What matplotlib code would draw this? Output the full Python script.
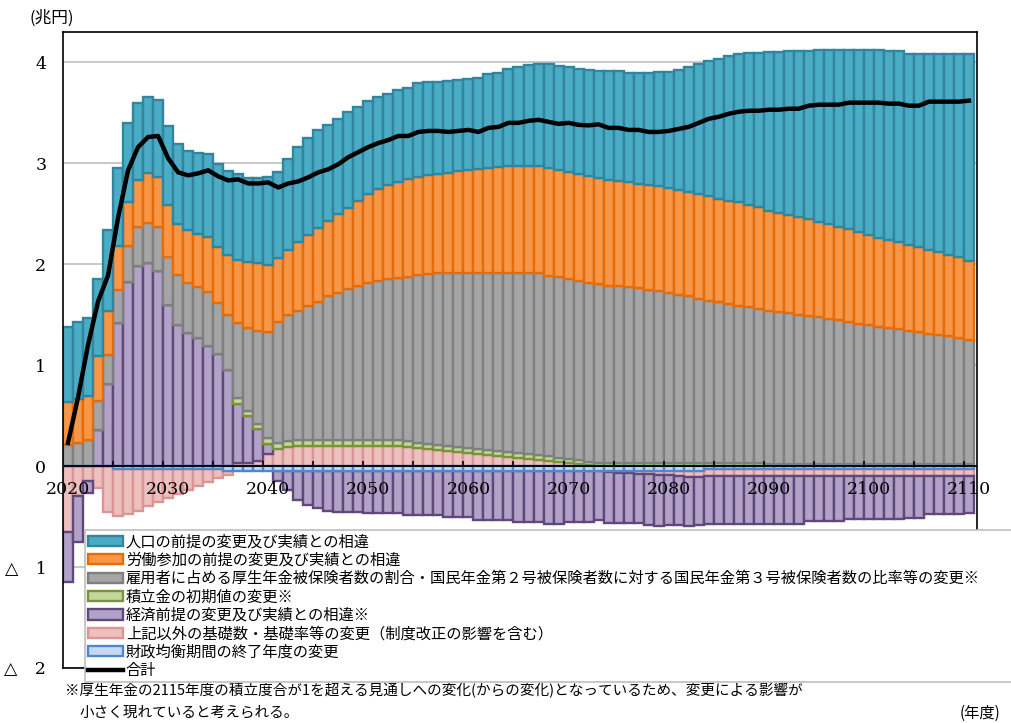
import matplotlib.pyplot as plt
import numpy as np

plt.rcParams['font.family'] = ['Noto Sans CJK JP', 'DejaVu Sans']

years = np.arange(2020, 2111)

# 財政均衡期間の終了年度の変更
zaisei = [0, 0, 0, 0, 0] + [-0.03] * 11 + [-0.05] * 48 + [-0.03] * 27

# 上記以外の基礎数・基礎率等の変更
sonota = [-0.65, -0.30, -0.15, -0.22, -0.45, -0.46, -0.44, -0.41, -0.37, -0.33,
          -0.29, -0.25, -0.21, -0.17, -0.13, -0.09, -0.04,
          0.03, 0.03, 0.05, 0.12, 0.17, 0.19,
          0.20, 0.20, 0.20, 0.20, 0.20, 0.20, 0.20, 0.20, 0.20, 0.20, 0.20,
          0.19, 0.18, 0.17, 0.16, 0.15, 0.14, 0.13, 0.12, 0.11, 0.10,
          0.09, 0.08, 0.07, 0.06, 0.05, 0.04, 0.03, 0.02, 0.01, 0.0,
          -0.01, -0.02, -0.02, -0.03, -0.03, -0.04, -0.04, -0.05, -0.06, -0.06] + [-0.07] * 27

# 経済前提の変更及び実績との相違
keizai = [-0.50, -0.45, -0.12, 0.36, 0.81, 1.42, 1.82, 1.98, 2.01, 1.93,
          1.60, 1.40, 1.32, 1.27, 1.19, 1.11, 0.95, 0.59, 0.47, 0.32,
          0.10, -0.10, -0.19, -0.29, -0.34, -0.37, -0.39, -0.40, -0.40, -0.40,
          -0.41, -0.41, -0.41, -0.41, -0.43, -0.43, -0.43, -0.43, -0.45, -0.45,
          -0.45, -0.48, -0.48, -0.48, -0.48, -0.50, -0.50, -0.50, -0.52, -0.52,
          -0.50, -0.50, -0.50, -0.48, -0.50, -0.49, -0.49, -0.48, -0.50, -0.50,
          -0.49, -0.48, -0.48, -0.47] + [-0.47] * 10 + [-0.44] * 4 + [-0.42] * 6 \
         + [-0.41] * 2 + [-0.37] * 4 + [-0.36]

# 積立金の初期値の変更
tsumitate = [0.0] * 17 + [0.05] * 3 + [0.06] * 15 + [0.05] * 14 + [0.04] * 3 \
            + [0.035] * 2 + [0.03] * 16 + [0.02] * 21

# 雇用者に占める厚生年金被保険者数の割合等の変更
koyou = [0.21, 0.23, 0.26, 0.28, 0.29, 0.32, 0.36, 0.39, 0.40, 0.44,
         0.47, 0.49, 0.49, 0.50, 0.53, 0.51, 0.55, 0.75, 0.82, 0.92,
         1.05, 1.20, 1.25, 1.28, 1.33, 1.37, 1.42, 1.45, 1.49, 1.52,
         1.55, 1.57, 1.59, 1.60, 1.62, 1.66, 1.68, 1.70, 1.71, 1.72,
         1.73, 1.74, 1.75, 1.76, 1.77, 1.78, 1.79, 1.80, 1.78, 1.79,
         1.78, 1.77, 1.77, 1.77, 1.75, 1.75, 1.74, 1.73, 1.71, 1.70,
         1.68, 1.66, 1.65, 1.63, 1.61, 1.60, 1.58, 1.56, 1.55, 1.53,
         1.52, 1.51, 1.50, 1.48, 1.47, 1.46, 1.44, 1.43, 1.41, 1.39,
         1.38, 1.36, 1.35, 1.34, 1.32, 1.31, 1.29, 1.28, 1.27, 1.25, 1.23]

# 労働参加の前提の変更及び実績との相違
roudou = [0.42, 0.43, 0.43, 0.45, 0.44, 0.44, 0.44, 0.46, 0.49, 0.49,
          0.52, 0.51, 0.53, 0.53, 0.55, 0.55, 0.59, 0.62, 0.65, 0.67,
          0.66, 0.63, 0.64, 0.68, 0.70, 0.73, 0.75, 0.79, 0.81, 0.85,
          0.89, 0.91, 0.93, 0.95, 0.97, 0.97, 0.98, 0.98, 0.99, 1.01,
          1.02, 1.03, 1.04, 1.05, 1.06, 1.06, 1.06, 1.06, 1.07, 1.06,
          1.06, 1.06, 1.06, 1.05, 1.05, 1.04, 1.04, 1.03, 1.04, 1.04,
          1.04, 1.04, 1.04, 1.04, 1.04, 1.02, 1.02, 1.03, 1.01, 1.01,
          0.99, 0.98, 0.97, 0.97, 0.96, 0.94, 0.94, 0.92, 0.92, 0.91,
          0.89, 0.88, 0.87, 0.86, 0.85, 0.84, 0.83, 0.82, 0.80, 0.80, 0.78]

# 人口の前提の変更及び実績との相違
jinkou = [0.75, 0.77, 0.78, 0.76, 0.80, 0.77, 0.78, 0.77, 0.76, 0.77,
          0.78, 0.79, 0.78, 0.80, 0.82, 0.82, 0.83, 0.85, 0.83, 0.84,
          0.87, 0.85, 0.90, 0.94, 0.96, 0.97, 0.95, 0.94, 0.95, 0.93,
          0.92, 0.92, 0.91, 0.92, 0.91, 0.93, 0.92, 0.91, 0.91, 0.90,
          0.90, 0.90, 0.93, 0.93, 0.96, 0.98, 1.00, 1.01, 1.03, 1.03,
          1.04, 1.04, 1.05, 1.06, 1.08, 1.09, 1.08, 1.10, 1.11, 1.13,
          1.15, 1.19, 1.23, 1.28, 1.33, 1.38, 1.43, 1.46, 1.50, 1.52,
          1.57, 1.59, 1.62, 1.64, 1.66, 1.70, 1.72, 1.75, 1.77, 1.80,
          1.83, 1.86, 1.87, 1.89, 1.89, 1.91, 1.94, 1.96, 1.99, 2.01, 2.05]

names = ['財政均衡期間の終了年度の変更',
         '上記以外の基礎数・基礎率等の変更（制度改正の影響を含む）',
         '経済前提の変更及び実績との相違※',
         '積立金の初期値の変更※',
         '雇用者に占める厚生年金被保険者数の割合・国民年金第２号被保険者数に対する国民年金第３号被保険者数の比率等の変更※',
         '労働参加の前提の変更及び実績との相違',
         '人口の前提の変更及び実績との相違']
fills = ['#C6D9F1', '#EBC0BF', '#B3A2C7', '#C3D69B', '#A5A5A5', '#F79646', '#4BACC6']
edges = ['#4F86D0', '#DA9694', '#5F497A', '#77933C', '#7F7F7F', '#E46C0A', '#31859C']
layers = [2.6, 2, 2, 2, 2, 2, 2]

series = [zaisei, sonota, keizai, tsumitate, koyou, roudou, jinkou]
total = np.sum([np.array(s) for s in series], axis=0)

fig = plt.figure(figsize=(10.12, 7.23), dpi=100)
ax = fig.add_axes([63 / 1012, 1 - 668 / 723, 914 / 1012, 636 / 723])

# 正の値は上へ、負の値は下へ積み上げ
pos = np.zeros(len(years))
neg = np.zeros(len(years))
handles = []
for vals, fc, ec, lab, zo in zip(series, fills, edges, names, layers):
    v = np.array(vals)
    bottom = np.where(v >= 0, pos, neg)
    b = ax.bar(years, v, bottom=bottom, width=1.0, color=fc, edgecolor=ec,
               linewidth=1.7, label=lab, zorder=zo)
    handles.append(b)
    pos += np.where(v >= 0, v, 0)
    neg += np.where(v < 0, v, 0)

line, = ax.plot(years, total, color='black', lw=3.2, label='合計', zorder=5)

ax.axhline(0, color='black', lw=1.3, zorder=4)
ax.vlines(np.arange(2024.5, 2111, 5), 0, 0.05, color='black', lw=1.2, zorder=4)

ax.set_xlim(2019.5, 2110.8)
ax.set_ylim(-2, 4.3)
ax.set_xticks([])
ax.set_yticks([4, 3, 2, 1, 0, -1, -2])
ax.set_yticklabels(['4', '3', '2', '1', '0', '△　1', '△　2'])
for t in ax.get_yticklabels():
    t.set_fontfamily(['DejaVu Serif', 'Noto Sans CJK JP'])
    t.set_fontsize(12.5)
ax.tick_params(axis='y', length=0, pad=12)
ax.yaxis.grid(True, color='#BFBFBF', lw=1.2)
ax.set_axisbelow(True)
for s in ax.spines.values():
    s.set_linewidth(1.2)
    s.set_color('black')

for yr in range(2020, 2111, 10):
    ax.text(yr, -0.15, str(yr), ha='center', va='top', fontsize=12.5,
            family='DejaVu Serif', zorder=6)

fig.text(30 / 1012, 1 - 18 / 723, '(兆円)', fontsize=12, va='center', ha='left')

leg_handles = handles[::-1] + [line]
leg_labels = names[::-1] + ['合計']
leg = fig.legend(leg_handles, leg_labels, loc='upper left',
                 bbox_to_anchor=(85 / 1012, 1 - 680 / 723, 1.0, 150 / 723),
                 mode='expand', fontsize=11, frameon=True, fancybox=False,
                 edgecolor='#BFBFBF', framealpha=1, handlelength=2.3,
                 handleheight=0.65, handletextpad=0.15, labelspacing=0.09,
                 borderpad=0.22, borderaxespad=0)
leg.get_frame().set_linewidth(1.2)

fig.text(65 / 1012, 1 - 691 / 723,
         '※厚生年金の2115年度の積立度合が1を超える見通しへの変化(からの変化)となっているため、変更による影響が',
         fontsize=10.5, va='center', ha='left')
fig.text(80 / 1012, 1 - 713 / 723, '小さく現れていると考えられる。',
         fontsize=10.5, va='center', ha='left')
fig.text(1000 / 1012, 1 - 713 / 723, '(年度)', fontsize=11, va='center', ha='right')

fig.savefig('out.png', dpi=100)
